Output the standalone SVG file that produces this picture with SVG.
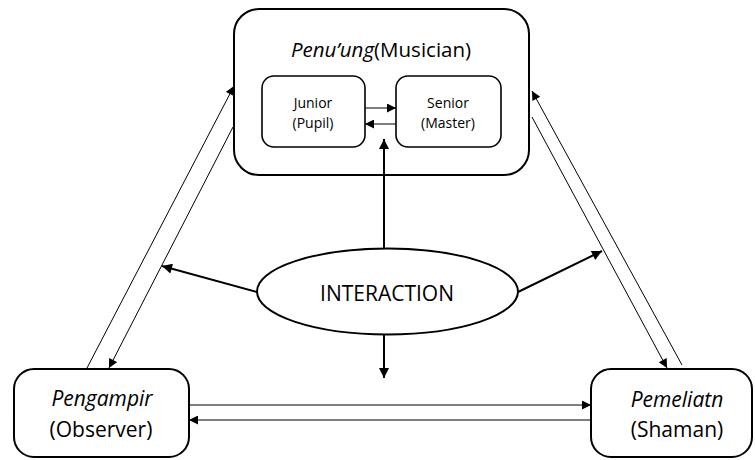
<svg xmlns="http://www.w3.org/2000/svg" width="755" height="460" viewBox="0 0 755 460">
  <style>
    .box { fill: #fff; stroke: #000; stroke-width: 2; }
    .inner { fill: #fff; stroke: #000; stroke-width: 1.6; }
    .lbl { font-family: "Open Sans", "Liberation Sans", sans-serif; fill: #000; text-anchor: middle; }
    .it { font-style: italic; }
    .thin { stroke: #000; stroke-width: 1; fill: none; marker-end: url(#ahs); }
    .thick { stroke: #000; stroke-width: 2; fill: none; marker-end: url(#ahl); }
  </style>
  <defs>
    <marker id="ahs" viewBox="0 0 10 10" refX="10" refY="5" markerWidth="11" markerHeight="9" orient="auto" markerUnits="userSpaceOnUse">
      <path d="M0,0 L10,5 L0,10 z" fill="#000"/>
    </marker>
    <marker id="ahl" viewBox="0 0 10 10" refX="10" refY="5" markerWidth="11" markerHeight="10" orient="auto" markerUnits="userSpaceOnUse">
      <path d="M0,0 L10,5 L0,10 z" fill="#000"/>
    </marker>
  </defs>

  <g id="musician">
    <rect class="box" x="234" y="9" width="295" height="166" rx="25"/>
    <text class="lbl" x="381" y="57" font-size="20.5"><tspan class="it">Penu’ung</tspan>(Musician)</text>
  </g>
  <g id="junior">
    <rect class="inner" x="262" y="76" width="103" height="71" rx="12"/>
    <text class="lbl" x="313" y="108" font-size="14">Junior</text>
    <text class="lbl" x="313" y="128" font-size="14">(Pupil)</text>
  </g>
  <g id="senior">
    <rect class="inner" x="396" y="76" width="105" height="71" rx="12"/>
    <text class="lbl" x="448" y="108" font-size="14">Senior</text>
    <text class="lbl" x="448" y="128" font-size="14">(Master)</text>
  </g>
  <g id="interaction">
    <ellipse class="box" cx="387.5" cy="291.5" rx="130.5" ry="43"/>
    <text class="lbl" x="387" y="301" font-size="21">INTERACTION</text>
  </g>
  <g id="observer">
    <rect class="box" x="14" y="369" width="175" height="88" rx="20"/>
    <text class="lbl it" x="102" y="406" font-size="21">Pengampir</text>
    <text class="lbl" x="101" y="437" font-size="21">(Observer)</text>
  </g>
  <g id="shaman">
    <rect class="box" x="591" y="369" width="161" height="88" rx="20"/>
    <text class="lbl it" x="677" y="407" font-size="21">Pemeliatn</text>
    <text class="lbl" x="677" y="437" font-size="21">(Shaman)</text>
  </g>

  <g id="connectors">
    <!-- junior / senior exchange -->
    <line class="thin" x1="365" y1="108" x2="396" y2="108"/>
    <line class="thin" x1="396" y1="124" x2="365" y2="124"/>
    <!-- observer <-> musician -->
    <line class="thin" x1="87" y1="368" x2="234" y2="86"/>
    <line class="thin" x1="233" y1="127" x2="109" y2="368"/>
    <!-- shaman <-> musician -->
    <line class="thin" x1="682" y1="365" x2="532" y2="91"/>
    <line class="thin" x1="532" y1="117" x2="667" y2="368"/>
    <!-- observer <-> shaman -->
    <line class="thin" x1="189" y1="405" x2="591" y2="405"/>
    <line class="thin" x1="591" y1="420" x2="189" y2="420"/>
    <!-- from interaction -->
    <line class="thick" x1="384" y1="248" x2="384" y2="139"/>
    <line class="thick" x1="384" y1="335" x2="384" y2="378"/>
    <line class="thick" x1="257" y1="292" x2="162" y2="266"/>
    <line class="thick" x1="518" y1="292" x2="602" y2="251"/>
  </g>
</svg>
